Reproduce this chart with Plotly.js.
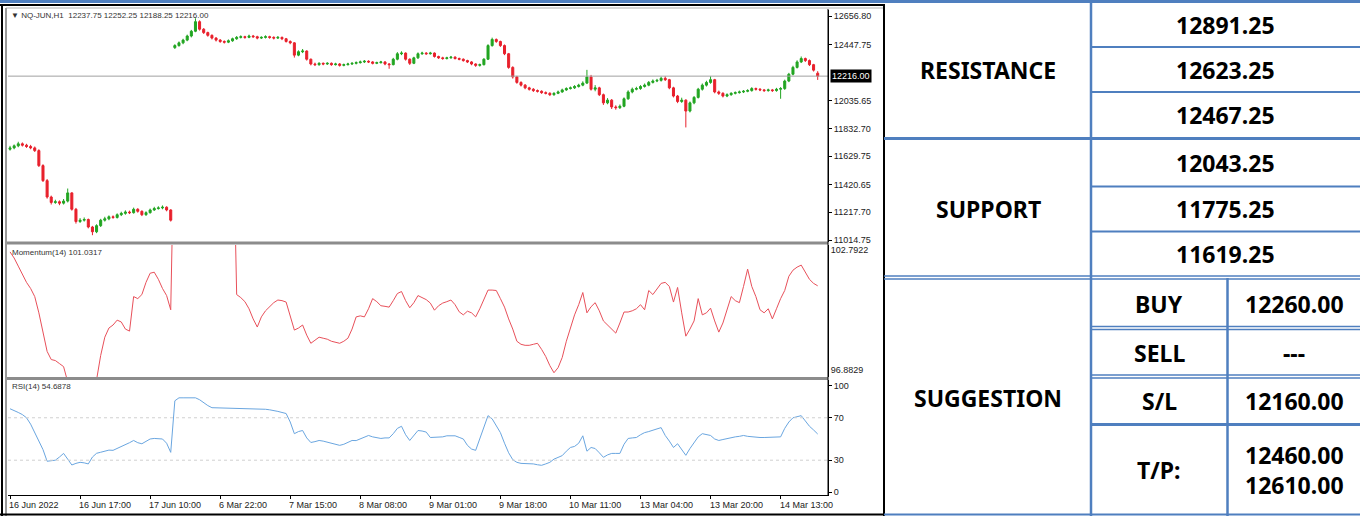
<!DOCTYPE html>
<html>
<head>
<meta charset="utf-8">
<script src="https://cdn.plot.ly/plotly-3.0.1.min.js"></script>
<style>html,body{margin:0;padding:0;background:#fff;}#chart{width:1360px;height:516px;}</style>
</head>
<body>
<div id="chart"></div>
<script>
// ---------------- DATA ----------------
const openP = [11680,11690,11705,11720,11710,11700,11690,11670,11560,11450,
 11330,11290,11295,11285,11300,11360,11240,11150,11160,11165,
 11110,11075,11120,11160,11170,11185,11180,11200,11210,11220,
 11215,11240,11225,11200,11215,11235,11245,11250,11255,11235,
 12425,12440,12460,12480,12510,12545,12615,12560,12535,12515,
 12495,12480,12470,12465,12475,12490,12500,12505,12500,12510,
 12505,12495,12500,12505,12500,12495,12500,12490,12470,12460,
 12370,12395,12400,12340,12305,12300,12310,12305,12310,12300,
 12305,12295,12300,12305,12310,12315,12320,12325,12320,12310,
 12315,12320,12305,12300,12340,12380,12385,12340,12310,12350,
 12380,12385,12380,12385,12360,12350,12345,12350,12355,12345,
 12340,12330,12320,12305,12295,12300,12340,12440,12485,12470,
 12440,12380,12280,12210,12170,12150,12130,12120,12110,12105,
 12095,12090,12080,12090,12100,12115,12125,12130,12140,12150,
 12165,12210,12120,12130,12080,12020,12040,11990,11985,11995,
 12050,12100,12120,12125,12140,12150,12170,12180,12185,12200,
 12190,12130,12070,12030,12040,11960,12020,12060,12120,12150,
 12170,12190,12100,12090,12070,12080,12090,12095,12100,12105,
 12110,12125,12120,12115,12110,12115,12110,12120,12125,12180,
 12230,12280,12320,12345,12330,12300,12237.75];
const highP = [11705,11715,11735,11730,11720,11712,11700,11680,11570,11462,
 11340,11310,11305,11315,11392,11365,11250,11175,11180,11172,
 11118,11130,11170,11185,11195,11195,11210,11222,11232,11230,
 11252,11248,11232,11225,11245,11258,11262,11268,11262,11240,
 12450,12470,12490,12520,12555,12640,12625,12568,12542,12522,
 12502,12488,12478,12485,12498,12510,12515,12512,12520,12518,
 12512,12508,12515,12512,12508,12510,12506,12496,12478,12465,
 12405,12415,12405,12345,12315,12318,12316,12318,12316,12314,
 12312,12308,12314,12318,12324,12330,12334,12332,12326,12322,
 12328,12325,12312,12350,12392,12398,12390,12346,12358,12390,
 12395,12392,12394,12390,12366,12358,12358,12364,12362,12352,
 12346,12336,12326,12310,12308,12348,12450,12498,12492,12476,
 12448,12386,12288,12218,12178,12158,12138,12128,12118,12112,
 12104,12098,12098,12110,12124,12134,12140,12150,12160,12178,
 12262,12225,12150,12138,12088,12055,12048,12002,12008,12060,
 12112,12132,12138,12150,12162,12180,12192,12196,12212,12215,
 12196,12138,12078,12058,12046,12030,12070,12130,12162,12182,
 12215,12196,12110,12098,12090,12098,12104,12110,12114,12120,
 12135,12132,12128,12122,12124,12122,12130,12136,12190,12240,
 12292,12332,12360,12352,12338,12306,12252.25];
const lowP = [11670,11680,11695,11700,11690,11680,11660,11550,11440,11318,
 11275,11280,11270,11275,11290,11230,11135,11140,11150,11100,
 11050,11065,11110,11150,11160,11170,11172,11190,11200,11205,
 11208,11215,11190,11192,11208,11228,11238,11240,11225,11150,
 12415,12432,12450,12472,12500,12538,12550,12525,12505,12485,
 12470,12460,12455,12458,12468,12482,12492,12490,12494,12496,
 12486,12488,12492,12490,12485,12488,12480,12462,12450,12352,
 12362,12385,12330,12295,12290,12292,12296,12298,12292,12294,
 12286,12288,12294,12298,12302,12308,12312,12312,12302,12304,
 12308,12296,12270,12295,12332,12370,12330,12298,12304,12342,
 12372,12372,12374,12352,12342,12336,12338,12344,12338,12332,
 12322,12312,12296,12284,12286,12294,12334,12432,12460,12430,
 12370,12270,12198,12160,12140,12120,12110,12100,12096,12086,
 12082,12070,12072,12084,12094,12108,12118,12122,12132,12142,
 12158,12110,12105,12070,12005,12010,11975,11970,11975,11988,
 12042,12090,12112,12116,12132,12142,12162,12172,12176,12180,
 12120,12060,12018,12020,11840,11950,12010,12052,12110,12140,
 12160,12090,12078,12060,12062,12072,12082,12088,12092,12098,
 12102,12110,12106,12100,12102,12100,12102,12050,12115,12172,
 12222,12272,12312,12320,12290,12250,12188.25];
const closeP = [11690,11705,11720,11710,11700,11690,11670,11560,11450,11330,
 11290,11295,11285,11300,11360,11240,11150,11160,11165,11110,
 11075,11120,11160,11170,11185,11180,11200,11210,11220,11215,
 11240,11225,11200,11215,11235,11245,11250,11255,11235,11160,
 12440,12460,12480,12510,12545,12615,12560,12535,12515,12495,
 12480,12470,12465,12475,12490,12500,12505,12500,12510,12505,
 12495,12500,12505,12500,12495,12500,12490,12470,12460,12370,
 12395,12400,12340,12305,12300,12310,12305,12310,12300,12305,
 12295,12300,12305,12310,12315,12320,12325,12320,12310,12315,
 12320,12305,12300,12340,12380,12385,12340,12310,12350,12380,
 12385,12380,12385,12360,12350,12345,12350,12355,12345,12340,
 12330,12320,12305,12295,12300,12340,12440,12485,12470,12440,
 12380,12280,12210,12170,12150,12130,12120,12110,12105,12095,
 12090,12080,12090,12100,12115,12125,12130,12140,12150,12165,
 12210,12120,12130,12080,12020,12040,11990,11985,11995,12050,
 12100,12120,12125,12140,12150,12170,12180,12185,12200,12190,
 12130,12070,12030,12040,11960,12020,12060,12120,12150,12170,
 12190,12100,12090,12070,12080,12090,12095,12100,12105,12110,
 12125,12120,12115,12110,12115,12110,12120,12125,12180,12230,
 12280,12320,12345,12330,12300,12260,12216];
const momentum = [102.7,102.4,102.0,101.6,101.2,100.9,100.5,99.7,98.8,97.8,
 97.4,97.35,97.2,97.05,96.3,96.0,95.6,95.5,95.7,95.8,
 95.9,96.4,97.6,98.5,98.95,99.1,99.34,99.25,98.9,98.8,
 100.5,100.4,100.6,101.2,101.65,101.7,101.35,100.9,100.55,99.85,
 110.2,110.4,110.6,110.9,111.1,111.6,111.3,111.0,110.8,110.7,
 110.5,110.4,110.3,110.4,110.5,100.6,100.45,100.25,99.9,99.4,
 99.0,99.5,99.8,100.0,100.2,100.33,100.3,100.23,99.6,98.85,
 98.95,99.1,98.6,98.2,98.35,98.5,98.45,98.4,98.3,98.25,
 98.2,98.3,98.45,98.9,99.5,99.55,99.5,99.9,100.4,100.25,
 100.05,100.02,99.98,100.3,100.65,100.75,100.3,99.95,100.2,100.55,
 100.45,100.35,100.18,99.83,100.05,100.18,100.25,100.33,100.1,99.75,
 99.6,99.78,99.7,99.5,99.9,100.4,100.82,100.82,100.8,100.4,
 99.98,99.4,98.9,98.3,98.15,98.1,98.1,98.15,98.2,97.9,
 97.55,97.1,96.75,97.0,97.5,98.3,99.0,99.6,100.1,100.7,
 99.7,100.0,100.2,99.8,99.3,99.1,98.85,98.7,99.2,99.74,
 99.74,99.8,99.9,100.1,99.85,100.8,100.6,100.9,101.15,101.2,
 101.0,100.23,100.95,99.7,98.55,98.9,99.3,100.4,99.6,99.7,
 99.93,99.3,98.75,99.2,99.9,100.5,100.3,100.2,101.0,101.85,
 101.0,100.5,99.85,99.7,99.9,99.4,99.9,100.4,100.8,101.5,
 101.8,101.95,102.05,101.7,101.35,101.15,101.03];
const rsi = [78.5,77,75,73,70,64,56,48,40,29,
 29.5,30,33,36.4,31,25.5,27,28,27.5,26.5,
 33,36.5,37.5,38.5,39.5,39.3,41,43,45,46.5,
 48.6,46.5,45.5,48,50,50.5,50.5,50,46,37.4,
 86,88.8,88.8,88.8,88.8,88.8,87,84,81.5,79.5,
 79.4,79.4,79.4,79.4,79.4,79.3,79,79,78.8,78.6,
 78.5,78.5,78,77.5,77,76,75,74,66,55,
 57,58,51,46.7,47.5,48.6,48,47,46,45,
 44,45,46.5,48.6,48.5,50,52,53.3,52,51,
 50.5,51,51,55,60,62,54,48.6,53,58,
 57.5,56.5,51.4,51.4,51.4,52,53,53.3,53,51.5,
 50,44,40.5,39.3,50,62,72,69,62,56,
 46,37,30.5,28,27,27,27,26.5,25.7,25.2,
 26.5,28,31,32.5,34.3,38.5,42,43,46,53,
 38.5,42,41,37,32.7,35,36.4,36.4,36.4,45,
 50.5,51,51.4,54,56,57,58.5,59.5,60.7,53.3,
 48,42,45.5,40,34.6,41,47,52,55,54,
 53.3,50,48.6,49.5,50.5,51,52,52.5,53.3,52.5,
 52,51.4,51.4,51.4,51.4,51.4,51.4,52,60,66,
 70,71,72,67,62,58.5,54.69];

const timeTickIdx = [0,17,34,51,68,85,102,119,136,153,170,187];
const timeTickText = ['16 Jun 2022','16 Jun 17:00','17 Jun 10:00','6 Mar 22:00','7 Mar 15:00','8 Mar 08:00',
  '9 Mar 01:00','9 Mar 18:00','10 Mar 11:00','13 Mar 04:00','13 Mar 20:00','14 Mar 13:00'];
const priceTicks = [12656.80,12447.75,12035.65,11832.70,11629.75,11420.65,11217.70,11014.75];
const priceTickText = ['12656.80','12447.75','12035.65','11832.70','11629.75','11420.65','11217.70','11014.75'];
const momTicks = [102.7922,96.8829];
const momTickText = ['102.7922','96.8829'];
const rsiTicks = [100,70,30,0];
const rsiTickText = ['100','70','30','0'];
const symbolLabel = 'NQ-JUN,H1  12237.75 12252.25 12188.25 12216.00';
const momLabel = 'Momentum(14) 101.0317';
const rsiLabel = 'RSI(14) 54.6878';

const resistance = ['12891.25','12623.25','12467.25'];
const support = ['12043.25','11775.25','11619.25'];
const sugLabels = ['BUY','SELL','S/L','T/P:'];
const sugValues = ['12260.00','---','12160.00','12460.00<br>12610.00'];

// ---------------- LAYOUT HELPERS ----------------
const W = 1360, H = 516;
const PX = x => x / W;
const PY = y => 1 - y / H;
const bars = closeP.map((_, i) => i);
const lastClose = closeP[closeP.length - 1];

const smallFont = {family: 'Liberation Sans, Arial, sans-serif', size: 9, color: '#222'};
const BLUE = '#4f7fbf';

const traces = [
  {type: 'candlestick', x: bars, open: openP, high: highP, low: lowP, close: closeP,
   xaxis: 'x', yaxis: 'y',
   increasing: {line: {color: '#22a522', width: 1}, fillcolor: '#22a522'},
   decreasing: {line: {color: '#e8202c', width: 1}, fillcolor: '#e8202c'},
   whiskerwidth: 0, hoverinfo: 'skip', showlegend: false},
  {type: 'scatter', mode: 'lines', x: bars, y: momentum, xaxis: 'x2', yaxis: 'y2',
   line: {color: '#e8505a', width: 1}, hoverinfo: 'skip', showlegend: false},
  {type: 'scatter', mode: 'lines', x: bars, y: rsi, xaxis: 'x3', yaxis: 'y3',
   line: {color: '#6aa6e0', width: 1}, hoverinfo: 'skip', showlegend: false}
];

const xDom = [PX(8), PX(828)];
const xRange = [-0.49, 198.5];
const baseX = {domain: xDom, range: xRange, showgrid: false, zeroline: false, showticklabels: false, fixedrange: true};

const layout = {
  width: W, height: H,
  margin: {l: 0, r: 0, t: 0, b: 0},
  paper_bgcolor: '#fff', plot_bgcolor: '#fff',
  showlegend: false,
  font: smallFont,
  xaxis: Object.assign({}, baseX, {anchor: 'y', rangeslider: {visible: false}}),
  xaxis2: Object.assign({}, baseX, {anchor: 'y2'}),
  xaxis3: Object.assign({}, baseX, {anchor: 'y3', tickvals: timeTickIdx, ticks: 'outside', ticklen: 3,
     tickcolor: '#000', showline: true, linecolor: '#000', linewidth: 1}),
  yaxis: {domain: [PY(242), PY(10)], anchor: 'x', side: 'right', range: [11000.1, 12700.8],
     tickvals: priceTicks, ticktext: priceTickText, ticks: 'outside', ticklen: 3, tickcolor: '#000',
     showline: true, linecolor: '#000', linewidth: 1, showgrid: false, zeroline: false, tickfont: smallFont},
  yaxis2: {domain: [PY(377), PY(245)], anchor: 'x2', side: 'right', range: [96.54, 103.04],
     tickvals: momTicks, ticktext: momTickText, ticks: '', showline: true, linecolor: '#000', linewidth: 1,
     showgrid: false, zeroline: false, tickfont: smallFont},
  yaxis3: {domain: [PY(495), PY(380)], anchor: 'x3', side: 'right', range: [-2.8, 105.6],
     tickvals: rsiTicks, ticktext: rsiTickText, ticks: 'outside', ticklen: 3, tickcolor: '#000',
     showline: true, linecolor: '#000', linewidth: 1, showgrid: false, zeroline: false, tickfont: smallFont},
  shapes: [],
  annotations: []
};

function hline(y, x0, x1, color, w, dash) {
  layout.shapes.push({type: 'line', xref: 'paper', yref: 'paper', x0: PX(x0), x1: PX(x1), y0: PY(y), y1: PY(y),
    line: {color: color, width: w, dash: dash || 'solid'}});
}
function vline(x, y0, y1, color, w) {
  layout.shapes.push({type: 'line', xref: 'paper', yref: 'paper', x0: PX(x), x1: PX(x), y0: PY(y0), y1: PY(y1),
    line: {color: color, width: w}});
}

// current price line and RSI levels (through data axes)
layout.shapes.push({type: 'line', xref: 'x', yref: 'y', x0: xRange[0], x1: xRange[1], y0: lastClose, y1: lastClose,
  line: {color: '#a0a0a0', width: 1}});
[70, 30].forEach(v => layout.shapes.push({type: 'line', xref: 'x3', yref: 'y3', x0: xRange[0], x1: xRange[1], y0: v, y1: v,
  line: {color: '#d0d0d0', width: 1, dash: 'dot'}}));

// chart frame
hline(1.5, 0, 1360, BLUE, 3);
hline(5, 0, 884, '#000', 2);
hline(8, 6, 884, '#b0b0b0', 1);
vline(2, 5, 516, '#000', 2);
vline(6, 8, 516, '#9a9a9a', 2);
vline(884, 4, 516, '#000', 2);
hline(514.5, 0, 884, '#000', 2);
hline(243, 7, 828, '#8c8c8c', 3);
hline(378.5, 7, 828, '#8c8c8c', 3);
vline(828, 9, 496, '#000', 1);

// table grid
vline(1091, 2, 516, BLUE, 2.5);
vline(1227.5, 278, 516, BLUE, 2.5);
hline(47, 1091, 1360, BLUE, 2);
hline(92, 1091, 1360, BLUE, 2);
hline(138.5, 884, 1360, BLUE, 3);
hline(186.5, 1091, 1360, BLUE, 2);
hline(231.5, 1091, 1360, BLUE, 2);
hline(276, 884, 1360, BLUE, 1.5);
hline(279, 884, 1360, BLUE, 1.5);
hline(326.5, 1091, 1360, BLUE, 1.5);
hline(329.5, 1091, 1360, BLUE, 1.5);
hline(375, 1091, 1360, BLUE, 1.5);
hline(378, 1091, 1360, BLUE, 1.5);
hline(424.5, 1091, 1360, BLUE, 3);
hline(514.5, 884, 1360, BLUE, 2);

// chart labels
function note(text, x, y, opts) {
  layout.annotations.push(Object.assign({text: text, xref: 'paper', yref: 'paper', x: PX(x), y: PY(y),
    xanchor: 'left', yanchor: 'middle', showarrow: false, font: smallFont}, opts || {}));
}
note('\u25BC ' + symbolLabel, 9, 15, {font: {family: smallFont.family, size: 8, color: '#333'}});
note(momLabel, 10, 252, {font: {family: smallFont.family, size: 8, color: '#333'}});
note(rsiLabel, 10, 386, {font: {family: smallFont.family, size: 8, color: '#333'}});
timeTickIdx.forEach((idx, k) => layout.annotations.push({text: timeTickText[k], xref: 'x3', yref: 'paper',
  x: idx, y: PY(505), xanchor: 'left', yanchor: 'middle', xshift: -3, showarrow: false, font: smallFont}));
layout.annotations.push({text: lastClose.toFixed(2), xref: 'paper', yref: 'y', x: PX(830), y: lastClose,
  xanchor: 'left', yanchor: 'middle', showarrow: false, bgcolor: '#000', borderpad: 1,
  font: {family: smallFont.family, size: 9, color: '#fff'}});

// table text
const tFont = {family: 'Noto Sans, Liberation Sans, sans-serif', size: 23, color: '#000'};
function cell(text, x, y) {
  layout.annotations.push({text: '<b>' + text + '</b>', xref: 'paper', yref: 'paper', x: PX(x), y: PY(y),
    xanchor: 'center', yanchor: 'middle', showarrow: false, font: tFont, align: 'center'});
}
cell('RESISTANCE', 988, 70);
cell('SUPPORT', 988, 209);
cell('SUGGESTION', 988, 398);
[25, 70, 115].forEach((y, k) => cell(resistance[k], 1225, y));
[163, 209, 254].forEach((y, k) => cell(support[k], 1225, y));
[304, 353, 401, 470].forEach((y, k) => { cell(sugLabels[k], 1159, y); cell(sugValues[k], 1294, y); });

Plotly.newPlot('chart', traces, layout, {displayModeBar: false, staticPlot: true});
</script>
</body>
</html>
